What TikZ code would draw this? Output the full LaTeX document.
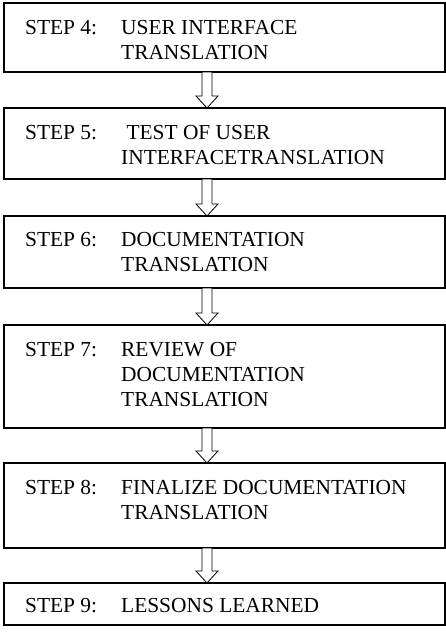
\documentclass[tikz,border=0pt]{standalone}
\usepackage{fontspec}
\setmainfont{Liberation Serif}
\usetikzlibrary{calc}

\tikzset{
  stepbox/.style={draw, line width=1.2pt, minimum width=441pt, inner sep=0pt, outer sep=0pt, anchor=north west},
  steptext/.style={anchor=base west, inner sep=0pt, font=\fontsize{21.4}{25}\selectfont},
  hollowarrow/.style={draw, fill=white, line width=0.8pt, line join=miter}
}
\newcommand{\steplabel}[2]{\makebox[96pt][l]{#1}\parbox[t]{318pt}{\raggedright #2}}

\begin{document}
\begin{tikzpicture}[x=1pt,y=1pt]
  % 全体の大きさ
  \useasboundingbox (0,0) rectangle (446,-635);
  % ステップの箱
  \node[stepbox, minimum height=69pt] (b4) at (4,-3) {};
  \node[stepbox, minimum height=71pt] (b5) at (4,-108) {};
  \node[stepbox, minimum height=72pt] (b6) at (4,-216) {};
  \node[stepbox, minimum height=103pt] (b7) at (4,-325) {};
  \node[stepbox, minimum height=85pt] (b8) at (4,-463) {};
  \node[stepbox, minimum height=42pt] (b9) at (4,-583) {};
  % 箱の中の文字
  \node[steptext] (t4) at ([shift={(21,-31)}]b4.north west)
    {\steplabel{STEP 4:}{USER INTERFACE\\TRANSLATION}};
  \node[steptext] (t5) at ([shift={(21,-31)}]b5.north west)
    {\steplabel{STEP 5:}{\ TEST OF USER\\INTERFACETRANSLATION}};
  \node[steptext] (t6) at ([shift={(21,-30)}]b6.north west)
    {\steplabel{STEP 6:}{DOCUMENTATION\\TRANSLATION}};
  \node[steptext] (t7) at ([shift={(21,-31)}]b7.north west)
    {\steplabel{STEP 7:}{REVIEW OF\\DOCUMENTATION\\TRANSLATION}};
  \node[steptext] (t8) at ([shift={(21,-31)}]b8.north west)
    {\steplabel{STEP 8:}{FINALIZE DOCUMENTATION\\TRANSLATION}};
  \node[steptext] (t9) at ([shift={(21,-29)}]b9.north west)
    {\steplabel{STEP 9:}{LESSONS LEARNED}};
  % 白抜きの矢印（箱から箱へ）
  \foreach \a/\b in {b4/b5,b5/b6,b6/b7,b7/b8,b8/b9} {
    \path[hollowarrow] let \p1=(\a.south), \p2=(\b.north) in
      (202pt,\y1) -- (202pt,\y2+12pt) -- (196pt,\y2+12pt) -- (207pt,\y2)
      -- (218pt,\y2+12pt) -- (212pt,\y2+12pt) -- (212pt,\y1) -- cycle;
  }
\end{tikzpicture}
\end{document}
